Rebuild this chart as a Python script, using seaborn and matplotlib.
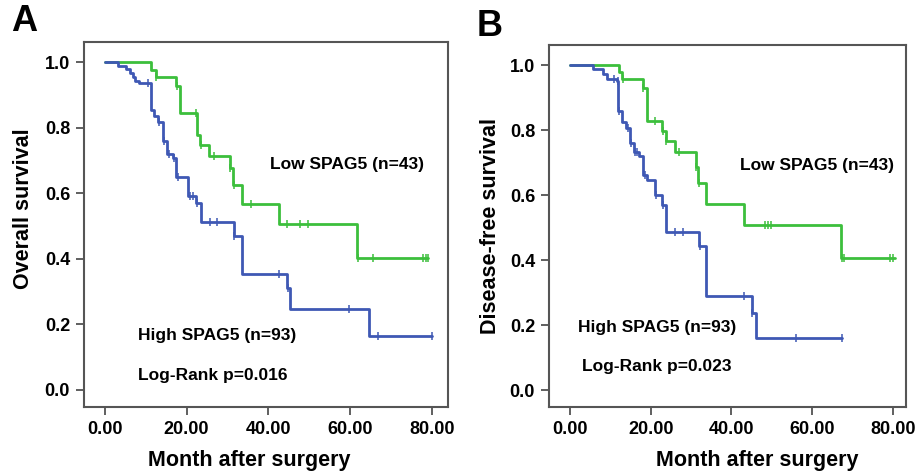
import numpy as np
import pandas as pd
import matplotlib
matplotlib.use("Agg")
import matplotlib.pyplot as plt
import seaborn as sns

# Kaplan-Meier step data
# Panel A - overall survival
a_low_t = [0, 11.4, 12.5, 17.5, 18.4, 22.6, 23.4, 25.5, 30.6, 31.4, 33.7, 42.6, 61.8, 79.2]
a_low_s = [1.0, 0.977, 0.953, 0.927, 0.843, 0.777, 0.747, 0.714, 0.676, 0.625, 0.567, 0.506, 0.403, 0.403]
a_low_cens = [12.6, 17.6, 22.3, 23.5, 26.8, 30.7, 31.5, 35.7, 44.6, 47.7, 49.8, 61.9, 65.7, 77.9, 78.5, 79.2]

a_high_t = [0, 3.3, 5.3, 6.1, 6.8, 7.3, 8.4, 11.2, 12.0, 13.0, 14.3, 15.3, 16.6, 17.5,
            20.4, 22.4, 23.6, 31.6, 33.7, 44.6, 45.4, 64.7, 80.0]
a_high_s = [1.0, 0.989, 0.978, 0.967, 0.953, 0.943, 0.935, 0.855, 0.835, 0.817, 0.76, 0.72, 0.708, 0.649,
            0.59, 0.569, 0.513, 0.47, 0.354, 0.312, 0.246, 0.165, 0.165]
a_high_cens = [10.6, 13.3, 14.6, 15.6, 17.0, 17.8, 20.8, 21.5, 22.5, 25.7, 27.5, 31.7, 42.6, 44.8, 59.7, 66.8, 80.0]

# Panel B - disease-free survival
b_low_t = [0, 12.2, 13.0, 18.1, 19.1, 22.9, 23.8, 26.0, 31.2, 31.8, 33.8, 43.1, 67.1, 80.4]
b_low_s = [1.0, 0.98, 0.956, 0.931, 0.828, 0.798, 0.767, 0.733, 0.687, 0.636, 0.572, 0.508, 0.407, 0.407]
b_low_cens = [13.1, 18.2, 21.0, 23.0, 23.9, 27.0, 31.3, 31.9, 48.3, 49.1, 49.9, 67.3, 67.8, 79.2, 80.0]

b_high_t = [0, 5.8, 8.1, 9.1, 11.7, 12.0, 12.8, 14.0, 14.9, 15.8, 17.2, 18.0, 19.1, 21.0,
            22.7, 23.9, 32.0, 33.8, 45.1, 46.0, 67.5]
b_high_s = [1.0, 0.989, 0.974, 0.957, 0.95, 0.859, 0.826, 0.808, 0.761, 0.733, 0.72, 0.662, 0.648, 0.6,
            0.569, 0.487, 0.443, 0.29, 0.238, 0.159, 0.159]
b_high_cens = [10.9, 11.8, 12.2, 14.3, 15.2, 16.2, 16.7, 18.5, 21.3, 23.0, 26.0, 28.0, 32.1, 43.1, 45.2, 56.1, 67.5]

x_ticks = [0, 20, 40, 60, 80]
x_tick_labels = ["0.00", "20.00", "40.00", "60.00", "80.00"]
y_ticks = [0.0, 0.2, 0.4, 0.6, 0.8, 1.0]
y_tick_labels = ["0.0", "0.2", "0.4", "0.6", "0.8", "1.0"]

green = "#3cbf3c"
blue = "#3f58b4"

sns.set_style("ticks")
plt.rcParams["font.family"] = ["Liberation Sans", "DejaVu Sans"]
plt.rcParams["font.weight"] = "bold"
plt.rcParams["text.color"] = "black"
plt.rcParams["axes.labelcolor"] = "black"
plt.rcParams["xtick.color"] = "black"
plt.rcParams["ytick.color"] = "black"


def surv_at(t_list, s_list, t):
    # value of the step function (post) at time t
    idx = np.searchsorted(np.array(t_list), t, side="right") - 1
    return s_list[max(idx, 0)]


def draw_km(ax, t_list, s_list, cens, color):
    df = pd.DataFrame({"t": t_list, "s": s_list})
    sns.lineplot(data=df, x="t", y="s", ax=ax, color=color, lw=2,
                 drawstyle="steps-post", estimator=None, sort=False)
    cdf = pd.DataFrame({"t": cens, "s": [surv_at(t_list, s_list, c) for c in cens]})
    sns.scatterplot(data=cdf, x="t", y="s", ax=ax, color=color, marker="|",
                    s=28, linewidth=1.1, zorder=3)


fig = plt.figure(figsize=(9.21, 4.73), dpi=100)
ax_a = fig.add_axes([0.0912, 0.1395, 0.3952, 0.7717])
ax_b = fig.add_axes([0.596, 0.1395, 0.3876, 0.7654])

draw_km(ax_a, a_low_t, a_low_s, a_low_cens, green)
draw_km(ax_a, a_high_t, a_high_s, a_high_cens, blue)
draw_km(ax_b, b_low_t, b_low_s, b_low_cens, green)
draw_km(ax_b, b_high_t, b_high_s, b_high_cens, blue)

ax_a.set_xlim(-5.1, 84.0)
ax_a.set_ylim(-0.052, 1.061)
ax_b.set_xlim(-5.2, 83.2)
ax_b.set_ylim(-0.052, 1.062)

for ax, ylab in [(ax_a, "Overall survival"), (ax_b, "Disease-free survival")]:
    ax.set_xticks(x_ticks)
    ax.set_xticklabels(x_tick_labels, fontsize=13, fontweight="bold")
    ax.set_yticks(y_ticks)
    ax.set_yticklabels(y_tick_labels, fontsize=13, fontweight="bold")
    ax.tick_params(direction="out", length=6, width=1.2, color="#444444", pad=4)
    ax.set_xlabel("Month after surgery", fontsize=15.5, fontweight="bold")
    ax.set_ylabel(ylab, fontsize=15.5, fontweight="bold")
    for sp in ax.spines.values():
        sp.set_visible(True)
        sp.set_color("#555555")
        sp.set_linewidth(1.5)

# label placement as in the original figure
ax_a.xaxis.set_label_coords(0.453, -0.118)
ax_a.yaxis.set_label_coords(-0.137, 0.542)
ax_b.xaxis.set_label_coords(0.583, -0.118)
ax_b.yaxis.set_label_coords(-0.135, 0.50)

ax_a.text(40.4, 0.686, "Low SPAG5 (n=43)", fontsize=12.5, fontweight="bold", va="center")
ax_a.text(8.1, 0.165, "High SPAG5 (n=93)", fontsize=12.5, fontweight="bold", va="center")
ax_a.text(8.1, 0.043, "Log-Rank p=0.016", fontsize=12.5, fontweight="bold", va="center")

ax_b.text(42.1, 0.69, "Low SPAG5 (n=43)", fontsize=12.5, fontweight="bold", va="center")
ax_b.text(2.0, 0.194, "High SPAG5 (n=93)", fontsize=12.5, fontweight="bold", va="center")
ax_b.text(3.0, 0.074, "Log-Rank p=0.023", fontsize=12.5, fontweight="bold", va="center")

fig.text(0.012, 0.955, "A", fontsize=26, fontweight="bold", va="center")
fig.text(0.518, 0.945, "B", fontsize=26, fontweight="bold", va="center")

fig.savefig("out.png", dpi=100)
